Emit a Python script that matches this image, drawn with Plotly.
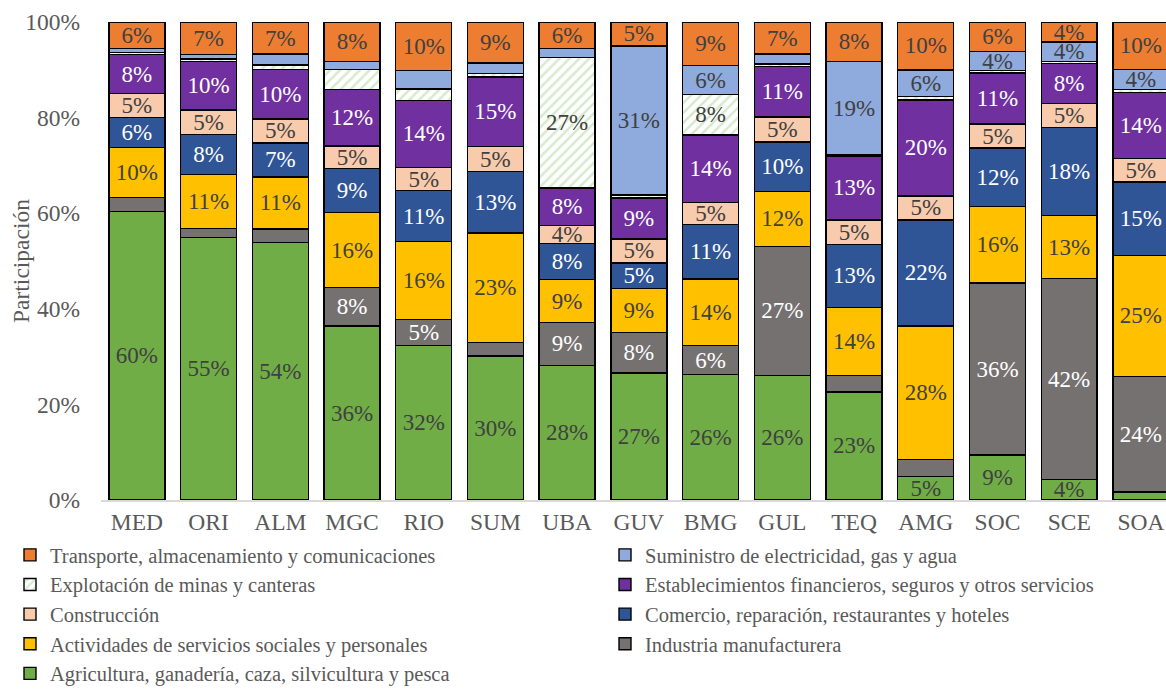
import plotly.graph_objects as go

categories = ["MED", "ORI", "ALM", "MGC", "RIO", "SUM", "UBA", "GUV", "BMG", "GUL", "TEQ", "AMG", "SOC", "SCE", "SOA"]

agricultura = [60.3, 54.9, 53.9, 36.4, 32.3, 30.1, 28.2, 26.6, 26.2, 26.1, 22.6, 4.9, 9.4, 4.3, 1.7]
industria = [3.0, 1.9, 2.8, 8.1, 5.4, 2.8, 8.9, 8.4, 6.1, 26.9, 3.5, 3.6, 36.0, 42.0, 24.2]
actividades = [10.4, 11.3, 10.9, 15.6, 16.4, 23.0, 9.0, 9.2, 13.9, 11.6, 14.2, 27.9, 16.0, 13.2, 25.2]
comercio = [6.3, 8.4, 7.1, 9.3, 10.6, 12.8, 7.6, 5.4, 11.4, 10.3, 13.2, 22.2, 12.2, 18.4, 15.4]
construccion = [5.0, 5.1, 5.0, 4.7, 4.9, 5.2, 3.7, 5.0, 4.6, 5.2, 5.1, 5.0, 5.1, 5.0, 5.0]
financieros = [8.2, 10.2, 10.4, 11.8, 14.0, 14.6, 7.9, 8.6, 14.2, 10.6, 13.4, 20.1, 10.6, 8.4, 13.7]
minas = [0.4, 0.5, 0.9, 4.2, 2.4, 0.7, 27.3, 0.6, 8.4, 0.5, 0.3, 0.7, 0.5, 0.5, 0.7]
electricidad = [0.8, 0.9, 2.3, 1.6, 3.8, 2.2, 1.8, 31.2, 6.1, 2.1, 19.4, 5.6, 4.0, 4.0, 4.2]
transporte = [5.6, 6.8, 6.7, 8.3, 10.2, 8.6, 5.6, 5.0, 9.1, 6.7, 8.3, 10.0, 6.2, 4.2, 9.9]

tick_vals = [0, 20, 40, 60, 80, 100]
tick_text = ["0%", "20%", "40%", "60%", "80%", "100%"]

# (name, values, fill colour, label colour, pattern, legend column)
series = [
    ("Agricultura, ganadería, caza, silvicultura y pesca", agricultura, "#70AD47", "#404040", None, "legend"),
    ("Industria manufacturera", industria, "#767171", "#FFFFFF", None, "legend2"),
    ("Actividades de servicios sociales y personales", actividades, "#FFC000", "#404040", None, "legend"),
    ("Comercio, reparación, restaurantes y hoteles", comercio, "#2F5597", "#FFFFFF", None, "legend2"),
    ("Construcción", construccion, "#F8CBAD", "#404040", None, "legend"),
    ("Establecimientos financieros, seguros y otros servicios", financieros, "#7030A0", "#FFFFFF", None, "legend2"),
    ("Explotación de minas y canteras", minas, "#FFFFFF", "#404040", "hatch", "legend"),
    ("Suministro de electricidad, gas y agua", electricidad, "#8FAADC", "#404040", None, "legend2"),
    ("Transporte, almacenamiento y comunicaciones", transporte, "#ED7D31", "#404040", None, "legend"),
]

hidden_labels = {("MGC", "Explotación de minas y canteras"),
                 ("RIO", "Suministro de electricidad, gas y agua")}

FONT = "Liberation Serif"
GREY = "#595959"
PLOT_L, PLOT_W = 101, 1065

fig = go.Figure()
for name, vals, color, tcolor, pat, leg in series:
    texts = []
    for c, v in zip(categories, vals):
        if v >= 3.7 and (c, name) not in hidden_labels:
            texts.append(f"{v:.0f}%")
        else:
            texts.append("")
    marker = dict(color=color, line=dict(color="#000000", width=1.4))
    if pat:
        marker["pattern"] = dict(shape="/", fgcolor="#D5EACB", bgcolor="#FFFFFF",
                                 size=7, solidity=0.35, fillmode="replace")
    fig.add_trace(go.Bar(
        x=categories, y=vals, name=name, marker=marker, legend=leg,
        text=texts, textposition="inside", insidetextanchor="middle",
        textangle=0, constraintext="none",
        textfont=dict(family=FONT, size=23, color=tcolor),
        hoverinfo="skip",
    ))

legend_common = dict(orientation="v", traceorder="reversed", xref="paper",
                     yref="container", y=1 - 535 / 690, yanchor="top", xanchor="left",
                     font=dict(family=FONT, size=20.5, color=GREY),
                     itemclick=False, itemdoubleclick=False, bgcolor="rgba(0,0,0,0)")

fig.update_layout(
    barmode="stack",
    bargap=0.22,
    width=1166, height=690,
    margin=dict(l=PLOT_L, r=0, t=22, b=190),
    paper_bgcolor="white", plot_bgcolor="white",
    font=dict(family=FONT, color=GREY),
    xaxis=dict(range=[-0.5, 14.35], showline=True, linecolor="#D9D9D9", linewidth=1.5,
               ticks="", tickfont=dict(family=FONT, size=23.5, color=GREY),
               ticklabelstandoff=0, showgrid=False, zeroline=False),
    yaxis=dict(range=[0, 100], tickvals=tick_vals, ticktext=tick_text, showgrid=False,
               zeroline=False, showline=False, ticks="",
               tickfont=dict(family=FONT, size=23.5, color=GREY),
               ticklabelstandoff=20),
    legend=dict(legend_common, x=(10 - PLOT_L) / PLOT_W),
    legend2=dict(legend_common, x=(605 - PLOT_L) / PLOT_W),
    annotations=[dict(text="Participación", xref="paper", yref="paper", x=0, y=0.5,
                      xanchor="center", yanchor="middle", xshift=-80, textangle=-90,
                      showarrow=False, font=dict(family=FONT, size=23.5, color=GREY))],
    showlegend=True,
)

fig.write_html("out.html", config={"displayModeBar": False},
               post_script="document.body.style.margin='0px';document.body.style.overflow='hidden';")
